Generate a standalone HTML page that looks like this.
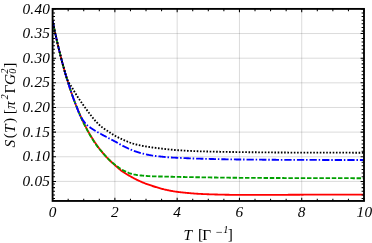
<!DOCTYPE html>
<html><head><meta charset="utf-8"><title>S(T)</title>
<style>html,body{margin:0;padding:0;background:#fff;overflow:hidden}svg{display:block}</style></head>
<body>
<svg width="372" height="243" viewBox="0 0 372 243">
<rect width="372" height="243" fill="#fff"/>
<defs><filter id="b" x="-5%" y="-5%" width="110%" height="110%"><feGaussianBlur stdDeviation="0.4"/></filter></defs>
<g filter="url(#b)">
<path d="M114.88,8.9 V200.95 M177.16,8.9 V200.95 M239.44,8.9 V200.95 M301.72,8.9 V200.95" stroke="#000" stroke-opacity="0.145" stroke-width="1" fill="none"/>
<path d="M52.6,181.40 H364.0 M52.6,156.76 H364.0 M52.6,132.12 H364.0 M52.6,107.47 H364.0 M52.6,82.83 H364.0 M52.6,58.19 H364.0 M52.6,33.55 H364.0" stroke="#000" stroke-opacity="0.145" stroke-width="1" fill="none"/>
<clipPath id="c"><rect x="52.6" y="8.9" width="311.4" height="192.04999999999998"/></clipPath>
<g clip-path="url(#c)" fill="none" stroke-width="1.85">
<path d="M52.60,20.60 L53.38,24.42 L54.16,28.16 L54.94,31.82 L55.72,35.40 L56.50,38.90 L57.28,42.32 L58.06,45.66 L58.84,48.94 L59.62,52.14 L60.40,55.27 L61.18,58.33 L61.97,61.32 L62.75,64.25 L63.53,67.12 L64.31,69.92 L65.09,72.66 L65.87,75.34 L66.65,77.96 L67.43,80.52 L68.21,83.03 L68.99,85.48 L69.77,87.88 L70.55,90.22 L71.33,92.52 L72.11,94.76 L72.89,96.95 L73.67,99.10 L74.45,101.20 L75.23,103.25 L76.01,105.26 L76.79,107.22 L77.57,109.14 L78.35,111.02 L79.14,112.86 L79.92,114.65 L80.70,116.41 L81.48,118.13 L82.26,119.81 L83.04,121.45 L83.82,123.06 L84.60,124.63 L85.38,126.17 L86.16,127.67 L86.94,129.14 L87.72,130.58 L88.50,131.99 L89.28,133.36 L90.06,134.71 L90.84,136.03 L91.62,137.31 L92.40,138.57 L93.18,139.80 L93.96,141.01 L94.74,142.19 L95.52,143.34 L96.31,144.46 L97.09,145.57 L97.87,146.64 L98.65,147.70 L99.43,148.73 L100.21,149.74 L100.99,150.72 L101.77,151.69 L102.55,152.63 L103.33,153.55 L104.11,154.45 L104.89,155.34 L105.67,156.20 L106.45,157.04 L107.23,157.87 L108.01,158.67 L108.79,159.46 L109.57,160.24 L110.35,160.99 L111.13,161.73 L111.91,162.45 L112.69,163.16 L113.48,163.85 L114.26,164.54 L115.04,165.24 L115.82,165.95 L116.60,166.66 L117.38,167.37 L118.16,168.06 L118.94,168.75 L119.72,169.41 L120.50,170.06 L121.28,170.67 L122.06,171.24 L122.84,171.79 L123.62,172.32 L124.40,172.82 L125.18,173.31 L125.96,173.79 L126.74,174.25 L127.52,174.71 L128.30,175.16 L129.08,175.60 L129.86,176.05 L130.65,176.49 L131.43,176.93 L132.21,177.36 L132.99,177.79 L133.77,178.21 L134.55,178.62 L135.33,179.02 L136.11,179.41 L136.89,179.80 L137.67,180.17 L138.45,180.54 L139.23,180.90 L140.01,181.26 L140.79,181.61 L141.57,181.95 L142.35,182.28 L143.13,182.61 L143.91,182.93 L144.69,183.24 L145.47,183.54 L146.25,183.83 L147.03,184.12 L147.82,184.40 L148.60,184.68 L149.38,184.95 L150.16,185.22 L150.94,185.48 L151.72,185.74 L152.50,186.00 L153.28,186.25 L154.06,186.50 L154.84,186.75 L155.62,187.00 L156.40,187.24 L157.18,187.47 L157.96,187.70 L158.74,187.93 L159.52,188.15 L160.30,188.37 L161.08,188.58 L161.86,188.79 L162.64,188.99 L163.42,189.19 L164.20,189.39 L164.98,189.57 L165.77,189.75 L166.55,189.92 L167.33,190.08 L168.11,190.25 L168.89,190.41 L169.67,190.57 L170.45,190.72 L171.23,190.87 L172.01,191.02 L172.79,191.16 L173.57,191.30 L174.35,191.43 L175.13,191.55 L175.91,191.68 L176.69,191.79 L177.47,191.90 L178.25,192.00 L179.03,192.09 L179.81,192.19 L180.59,192.28 L181.37,192.36 L182.15,192.45 L182.94,192.53 L183.72,192.61 L184.50,192.68 L185.28,192.75 L186.06,192.83 L186.84,192.90 L187.62,192.97 L188.40,193.03 L189.18,193.10 L189.96,193.17 L190.74,193.24 L191.52,193.30 L192.30,193.37 L193.08,193.43 L193.86,193.49 L194.64,193.55 L195.42,193.61 L196.20,193.67 L196.98,193.72 L197.76,193.77 L198.54,193.82 L199.32,193.86 L200.11,193.91 L200.89,193.94 L201.67,193.98 L202.45,194.02 L203.23,194.06 L204.01,194.09 L204.79,194.12 L205.57,194.16 L206.35,194.19 L207.13,194.22 L207.91,194.25 L208.69,194.28 L209.47,194.31 L210.25,194.33 L211.03,194.36 L211.81,194.38 L212.59,194.41 L213.37,194.43 L214.15,194.45 L214.93,194.47 L215.71,194.49 L216.49,194.51 L217.28,194.53 L218.06,194.55 L218.84,194.57 L219.62,194.59 L220.40,194.61 L221.18,194.62 L221.96,194.64 L222.74,194.66 L223.52,194.68 L224.30,194.70 L225.08,194.71 L225.86,194.73 L226.64,194.75 L227.42,194.76 L228.20,194.78 L228.98,194.79 L229.76,194.80 L230.54,194.82 L231.32,194.83 L232.10,194.84 L232.88,194.85 L233.66,194.86 L234.45,194.87 L235.23,194.88 L236.01,194.88 L236.79,194.89 L237.57,194.89 L238.35,194.90 L239.13,194.90 L239.91,194.90 L240.69,194.90 L241.47,194.90 L242.25,194.90 L243.03,194.90 L243.81,194.90 L244.59,194.90 L245.37,194.90 L246.15,194.90 L246.93,194.90 L247.71,194.90 L248.49,194.90 L249.27,194.90 L250.05,194.90 L250.83,194.90 L251.62,194.90 L252.40,194.90 L253.18,194.90 L253.96,194.90 L254.74,194.90 L255.52,194.90 L256.30,194.90 L257.08,194.90 L257.86,194.90 L258.64,194.90 L259.42,194.90 L260.20,194.90 L260.98,194.90 L261.76,194.90 L262.54,194.90 L263.32,194.90 L264.10,194.90 L264.88,194.90 L265.66,194.90 L266.44,194.90 L267.22,194.90 L268.00,194.90 L268.78,194.90 L269.57,194.90 L270.35,194.90 L271.13,194.90 L271.91,194.90 L272.69,194.90 L273.47,194.89 L274.25,194.89 L275.03,194.89 L275.81,194.88 L276.59,194.88 L277.37,194.88 L278.15,194.87 L278.93,194.87 L279.71,194.86 L280.49,194.85 L281.27,194.85 L282.05,194.84 L282.83,194.84 L283.61,194.83 L284.39,194.82 L285.17,194.82 L285.95,194.81 L286.74,194.80 L287.52,194.80 L288.30,194.79 L289.08,194.78 L289.86,194.77 L290.64,194.77 L291.42,194.76 L292.20,194.75 L292.98,194.75 L293.76,194.74 L294.54,194.74 L295.32,194.73 L296.10,194.73 L296.88,194.72 L297.66,194.72 L298.44,194.71 L299.22,194.71 L300.00,194.71 L300.78,194.70 L301.56,194.70 L302.34,194.70 L303.12,194.70 L303.91,194.69 L304.69,194.69 L305.47,194.69 L306.25,194.69 L307.03,194.69 L307.81,194.68 L308.59,194.68 L309.37,194.68 L310.15,194.68 L310.93,194.68 L311.71,194.67 L312.49,194.67 L313.27,194.67 L314.05,194.67 L314.83,194.67 L315.61,194.66 L316.39,194.66 L317.17,194.66 L317.95,194.66 L318.73,194.66 L319.51,194.65 L320.29,194.65 L321.08,194.65 L321.86,194.65 L322.64,194.65 L323.42,194.65 L324.20,194.64 L324.98,194.64 L325.76,194.64 L326.54,194.64 L327.32,194.64 L328.10,194.64 L328.88,194.64 L329.66,194.63 L330.44,194.63 L331.22,194.63 L332.00,194.63 L332.78,194.63 L333.56,194.63 L334.34,194.63 L335.12,194.62 L335.90,194.62 L336.68,194.62 L337.46,194.62 L338.25,194.62 L339.03,194.62 L339.81,194.62 L340.59,194.62 L341.37,194.62 L342.15,194.61 L342.93,194.61 L343.71,194.61 L344.49,194.61 L345.27,194.61 L346.05,194.61 L346.83,194.61 L347.61,194.61 L348.39,194.61 L349.17,194.61 L349.95,194.61 L350.73,194.61 L351.51,194.60 L352.29,194.60 L353.07,194.60 L353.85,194.60 L354.63,194.60 L355.42,194.60 L356.20,194.60 L356.98,194.60 L357.76,194.60 L358.54,194.60 L359.32,194.60 L360.10,194.60 L360.88,194.60 L361.66,194.60 L362.44,194.60 L363.22,194.60 L364.00,194.60" stroke="#ff0000"/>
<path d="M52.60,20.60 L53.38,24.42 L54.16,28.16 L54.94,31.82 L55.72,35.40 L56.50,38.90 L57.28,42.32 L58.06,45.66 L58.84,48.94 L59.62,52.14 L60.40,55.27 L61.18,58.33 L61.97,61.32 L62.75,64.25 L63.53,67.12 L64.31,69.92 L65.09,72.66 L65.87,75.34 L66.65,77.96 L67.43,80.52 L68.21,83.03 L68.99,85.48 L69.77,87.88 L70.55,90.22 L71.33,92.52 L72.11,94.76 L72.89,96.95 L73.67,99.10 L74.45,101.20 L75.23,103.25 L76.01,105.26 L76.79,107.22 L77.57,109.14 L78.35,110.98 L79.14,112.88 L79.92,114.94 L80.70,116.91 L81.48,118.66 L82.26,120.31 L83.04,121.95 L83.82,123.56 L84.60,125.13 L85.38,126.67 L86.16,128.17 L86.94,129.64 L87.72,131.08 L88.50,132.49 L89.28,133.86 L90.06,135.21 L90.84,136.53 L91.62,137.81 L92.40,139.07 L93.18,140.30 L93.96,141.51 L94.74,142.69 L95.52,143.84 L96.31,144.96 L97.09,146.07 L97.87,147.17 L98.65,148.22 L99.43,149.06 L100.21,149.79 L100.99,150.68 L101.77,151.68 L102.55,152.63 L103.33,153.55 L104.11,154.45 L104.89,155.34 L105.67,156.20 L106.45,157.04 L107.23,157.87 L108.01,158.69 L108.79,159.46 L109.57,160.19 L110.35,160.89 L111.13,161.58 L111.91,162.25 L112.69,162.90 L113.48,163.54 L114.26,164.17 L115.04,164.79 L115.82,165.39 L116.60,165.98 L117.38,166.55 L118.16,167.11 L118.94,167.67 L119.72,168.22 L120.50,168.76 L121.28,169.27 L122.06,169.73 L122.84,170.17 L123.62,170.57 L124.40,170.96 L125.18,171.32 L125.96,171.68 L126.74,172.04 L127.52,172.39 L128.30,172.73 L129.08,173.03 L129.86,173.28 L130.65,173.52 L131.43,173.75 L132.21,173.96 L132.99,174.17 L133.77,174.36 L134.55,174.53 L135.33,174.69 L136.11,174.84 L136.89,174.97 L137.67,175.08 L138.45,175.19 L139.23,175.28 L140.01,175.37 L140.79,175.46 L141.57,175.53 L142.35,175.61 L143.13,175.68 L143.91,175.74 L144.69,175.81 L145.47,175.87 L146.25,175.93 L147.03,175.99 L147.82,176.05 L148.60,176.11 L149.38,176.16 L150.16,176.21 L150.94,176.25 L151.72,176.28 L152.50,176.31 L153.28,176.33 L154.06,176.36 L154.84,176.38 L155.62,176.40 L156.40,176.42 L157.18,176.43 L157.96,176.45 L158.74,176.46 L159.52,176.48 L160.30,176.49 L161.08,176.50 L161.86,176.52 L162.64,176.53 L163.42,176.55 L164.20,176.56 L164.98,176.58 L165.77,176.59 L166.55,176.61 L167.33,176.63 L168.11,176.65 L168.89,176.67 L169.67,176.70 L170.45,176.72 L171.23,176.74 L172.01,176.76 L172.79,176.78 L173.57,176.80 L174.35,176.82 L175.13,176.84 L175.91,176.86 L176.69,176.88 L177.47,176.90 L178.25,176.92 L179.03,176.93 L179.81,176.95 L180.59,176.96 L181.37,176.98 L182.15,177.00 L182.94,177.01 L183.72,177.03 L184.50,177.04 L185.28,177.06 L186.06,177.07 L186.84,177.08 L187.62,177.10 L188.40,177.11 L189.18,177.13 L189.96,177.14 L190.74,177.15 L191.52,177.17 L192.30,177.18 L193.08,177.19 L193.86,177.20 L194.64,177.22 L195.42,177.23 L196.20,177.24 L196.98,177.25 L197.76,177.27 L198.54,177.28 L199.32,177.29 L200.11,177.30 L200.89,177.31 L201.67,177.32 L202.45,177.34 L203.23,177.35 L204.01,177.36 L204.79,177.37 L205.57,177.38 L206.35,177.40 L207.13,177.41 L207.91,177.42 L208.69,177.43 L209.47,177.44 L210.25,177.45 L211.03,177.46 L211.81,177.48 L212.59,177.49 L213.37,177.50 L214.15,177.51 L214.93,177.52 L215.71,177.53 L216.49,177.54 L217.28,177.55 L218.06,177.56 L218.84,177.57 L219.62,177.58 L220.40,177.59 L221.18,177.61 L221.96,177.62 L222.74,177.63 L223.52,177.64 L224.30,177.64 L225.08,177.65 L225.86,177.66 L226.64,177.67 L227.42,177.68 L228.20,177.69 L228.98,177.70 L229.76,177.71 L230.54,177.72 L231.32,177.72 L232.10,177.73 L232.88,177.74 L233.66,177.75 L234.45,177.76 L235.23,177.76 L236.01,177.77 L236.79,177.78 L237.57,177.78 L238.35,177.79 L239.13,177.80 L239.91,177.80 L240.69,177.81 L241.47,177.81 L242.25,177.82 L243.03,177.82 L243.81,177.83 L244.59,177.83 L245.37,177.84 L246.15,177.84 L246.93,177.85 L247.71,177.85 L248.49,177.86 L249.27,177.87 L250.05,177.87 L250.83,177.88 L251.62,177.88 L252.40,177.89 L253.18,177.89 L253.96,177.89 L254.74,177.90 L255.52,177.90 L256.30,177.91 L257.08,177.91 L257.86,177.92 L258.64,177.92 L259.42,177.93 L260.20,177.93 L260.98,177.94 L261.76,177.94 L262.54,177.95 L263.32,177.95 L264.10,177.95 L264.88,177.96 L265.66,177.96 L266.44,177.97 L267.22,177.97 L268.00,177.97 L268.78,177.98 L269.57,177.98 L270.35,177.99 L271.13,177.99 L271.91,177.99 L272.69,178.00 L273.47,178.00 L274.25,178.00 L275.03,178.01 L275.81,178.01 L276.59,178.01 L277.37,178.02 L278.15,178.02 L278.93,178.02 L279.71,178.03 L280.49,178.03 L281.27,178.03 L282.05,178.04 L282.83,178.04 L283.61,178.04 L284.39,178.05 L285.17,178.05 L285.95,178.05 L286.74,178.06 L287.52,178.06 L288.30,178.06 L289.08,178.06 L289.86,178.07 L290.64,178.07 L291.42,178.07 L292.20,178.07 L292.98,178.08 L293.76,178.08 L294.54,178.08 L295.32,178.08 L296.10,178.09 L296.88,178.09 L297.66,178.09 L298.44,178.09 L299.22,178.09 L300.00,178.10 L300.78,178.10 L301.56,178.10 L302.34,178.10 L303.12,178.10 L303.91,178.11 L304.69,178.11 L305.47,178.11 L306.25,178.11 L307.03,178.11 L307.81,178.12 L308.59,178.12 L309.37,178.12 L310.15,178.12 L310.93,178.12 L311.71,178.12 L312.49,178.13 L313.27,178.13 L314.05,178.13 L314.83,178.13 L315.61,178.13 L316.39,178.14 L317.17,178.14 L317.95,178.14 L318.73,178.14 L319.51,178.14 L320.29,178.14 L321.08,178.15 L321.86,178.15 L322.64,178.15 L323.42,178.15 L324.20,178.15 L324.98,178.15 L325.76,178.16 L326.54,178.16 L327.32,178.16 L328.10,178.16 L328.88,178.16 L329.66,178.16 L330.44,178.16 L331.22,178.17 L332.00,178.17 L332.78,178.17 L333.56,178.17 L334.34,178.17 L335.12,178.17 L335.90,178.17 L336.68,178.18 L337.46,178.18 L338.25,178.18 L339.03,178.18 L339.81,178.18 L340.59,178.18 L341.37,178.18 L342.15,178.18 L342.93,178.18 L343.71,178.19 L344.49,178.19 L345.27,178.19 L346.05,178.19 L346.83,178.19 L347.61,178.19 L348.39,178.19 L349.17,178.19 L349.95,178.19 L350.73,178.19 L351.51,178.19 L352.29,178.20 L353.07,178.20 L353.85,178.20 L354.63,178.20 L355.42,178.20 L356.20,178.20 L356.98,178.20 L357.76,178.20 L358.54,178.20 L359.32,178.20 L360.10,178.20 L360.88,178.20 L361.66,178.20 L362.44,178.20 L363.22,178.20 L364.00,178.20" stroke="#00a000" stroke-dasharray="4.5,1.7" stroke-dashoffset="5.0"/>
<path d="M52.60,20.60 L53.38,24.42 L54.16,28.16 L54.94,31.82 L55.72,35.40 L56.50,38.90 L57.28,42.32 L58.06,45.66 L58.84,48.94 L59.62,52.14 L60.40,55.27 L61.18,58.33 L61.97,61.32 L62.75,64.25 L63.53,67.12 L64.31,69.92 L65.09,72.66 L65.87,75.34 L66.65,77.96 L67.43,80.52 L68.21,83.03 L68.99,85.48 L69.77,87.88 L70.55,90.22 L71.33,92.52 L72.11,94.76 L72.89,96.95 L73.67,99.10 L74.45,101.20 L75.23,103.25 L76.01,105.25 L76.79,107.18 L77.57,109.20 L78.35,111.49 L79.14,113.67 L79.92,115.28 L80.70,116.52 L81.48,117.79 L82.26,119.06 L83.04,120.25 L83.82,121.37 L84.60,122.44 L85.38,123.42 L86.16,124.26 L86.94,124.98 L87.72,125.62 L88.50,126.22 L89.28,126.81 L90.06,127.38 L90.84,127.92 L91.62,128.45 L92.40,128.96 L93.18,129.47 L93.96,129.97 L94.74,130.45 L95.52,130.93 L96.31,131.40 L97.09,131.87 L97.87,132.32 L98.65,132.77 L99.43,133.21 L100.21,133.64 L100.99,134.06 L101.77,134.48 L102.55,134.90 L103.33,135.31 L104.11,135.73 L104.89,136.14 L105.67,136.56 L106.45,136.97 L107.23,137.38 L108.01,137.79 L108.79,138.20 L109.57,138.60 L110.35,139.01 L111.13,139.42 L111.91,139.82 L112.69,140.23 L113.48,140.65 L114.26,141.06 L115.04,141.48 L115.82,141.91 L116.60,142.35 L117.38,142.79 L118.16,143.23 L118.94,143.68 L119.72,144.13 L120.50,144.57 L121.28,145.01 L122.06,145.44 L122.84,145.86 L123.62,146.26 L124.40,146.66 L125.18,147.04 L125.96,147.41 L126.74,147.78 L127.52,148.14 L128.30,148.50 L129.08,148.85 L129.86,149.20 L130.65,149.53 L131.43,149.86 L132.21,150.19 L132.99,150.50 L133.77,150.80 L134.55,151.09 L135.33,151.37 L136.11,151.64 L136.89,151.90 L137.67,152.15 L138.45,152.40 L139.23,152.64 L140.01,152.87 L140.79,153.10 L141.57,153.31 L142.35,153.52 L143.13,153.72 L143.91,153.91 L144.69,154.09 L145.47,154.27 L146.25,154.44 L147.03,154.60 L147.82,154.76 L148.60,154.91 L149.38,155.06 L150.16,155.20 L150.94,155.33 L151.72,155.46 L152.50,155.57 L153.28,155.69 L154.06,155.80 L154.84,155.90 L155.62,156.00 L156.40,156.10 L157.18,156.19 L157.96,156.28 L158.74,156.36 L159.52,156.45 L160.30,156.53 L161.08,156.61 L161.86,156.69 L162.64,156.77 L163.42,156.85 L164.20,156.92 L164.98,157.00 L165.77,157.07 L166.55,157.14 L167.33,157.20 L168.11,157.26 L168.89,157.32 L169.67,157.38 L170.45,157.43 L171.23,157.48 L172.01,157.52 L172.79,157.57 L173.57,157.61 L174.35,157.65 L175.13,157.69 L175.91,157.73 L176.69,157.76 L177.47,157.80 L178.25,157.84 L179.03,157.87 L179.81,157.91 L180.59,157.94 L181.37,157.98 L182.15,158.02 L182.94,158.05 L183.72,158.09 L184.50,158.12 L185.28,158.16 L186.06,158.19 L186.84,158.22 L187.62,158.26 L188.40,158.29 L189.18,158.32 L189.96,158.35 L190.74,158.38 L191.52,158.42 L192.30,158.45 L193.08,158.47 L193.86,158.50 L194.64,158.53 L195.42,158.56 L196.20,158.58 L196.98,158.61 L197.76,158.63 L198.54,158.66 L199.32,158.68 L200.11,158.70 L200.89,158.72 L201.67,158.75 L202.45,158.77 L203.23,158.79 L204.01,158.81 L204.79,158.83 L205.57,158.85 L206.35,158.87 L207.13,158.89 L207.91,158.91 L208.69,158.93 L209.47,158.95 L210.25,158.97 L211.03,158.99 L211.81,159.01 L212.59,159.02 L213.37,159.04 L214.15,159.06 L214.93,159.08 L215.71,159.10 L216.49,159.11 L217.28,159.13 L218.06,159.15 L218.84,159.16 L219.62,159.18 L220.40,159.20 L221.18,159.21 L221.96,159.23 L222.74,159.24 L223.52,159.26 L224.30,159.27 L225.08,159.29 L225.86,159.30 L226.64,159.32 L227.42,159.33 L228.20,159.34 L228.98,159.36 L229.76,159.37 L230.54,159.38 L231.32,159.39 L232.10,159.40 L232.88,159.42 L233.66,159.43 L234.45,159.44 L235.23,159.45 L236.01,159.46 L236.79,159.47 L237.57,159.48 L238.35,159.48 L239.13,159.49 L239.91,159.50 L240.69,159.51 L241.47,159.52 L242.25,159.52 L243.03,159.53 L243.81,159.54 L244.59,159.55 L245.37,159.55 L246.15,159.56 L246.93,159.57 L247.71,159.58 L248.49,159.58 L249.27,159.59 L250.05,159.60 L250.83,159.61 L251.62,159.61 L252.40,159.62 L253.18,159.63 L253.96,159.63 L254.74,159.64 L255.52,159.65 L256.30,159.65 L257.08,159.66 L257.86,159.67 L258.64,159.67 L259.42,159.68 L260.20,159.68 L260.98,159.69 L261.76,159.70 L262.54,159.70 L263.32,159.71 L264.10,159.71 L264.88,159.72 L265.66,159.72 L266.44,159.73 L267.22,159.74 L268.00,159.74 L268.78,159.75 L269.57,159.75 L270.35,159.76 L271.13,159.76 L271.91,159.77 L272.69,159.77 L273.47,159.78 L274.25,159.78 L275.03,159.79 L275.81,159.79 L276.59,159.80 L277.37,159.80 L278.15,159.80 L278.93,159.81 L279.71,159.81 L280.49,159.82 L281.27,159.82 L282.05,159.83 L282.83,159.83 L283.61,159.83 L284.39,159.84 L285.17,159.84 L285.95,159.84 L286.74,159.85 L287.52,159.85 L288.30,159.85 L289.08,159.86 L289.86,159.86 L290.64,159.86 L291.42,159.87 L292.20,159.87 L292.98,159.87 L293.76,159.88 L294.54,159.88 L295.32,159.88 L296.10,159.88 L296.88,159.89 L297.66,159.89 L298.44,159.89 L299.22,159.89 L300.00,159.90 L300.78,159.90 L301.56,159.90 L302.34,159.90 L303.12,159.90 L303.91,159.91 L304.69,159.91 L305.47,159.91 L306.25,159.91 L307.03,159.91 L307.81,159.92 L308.59,159.92 L309.37,159.92 L310.15,159.92 L310.93,159.92 L311.71,159.93 L312.49,159.93 L313.27,159.93 L314.05,159.93 L314.83,159.93 L315.61,159.93 L316.39,159.94 L317.17,159.94 L317.95,159.94 L318.73,159.94 L319.51,159.94 L320.29,159.95 L321.08,159.95 L321.86,159.95 L322.64,159.95 L323.42,159.95 L324.20,159.95 L324.98,159.96 L325.76,159.96 L326.54,159.96 L327.32,159.96 L328.10,159.96 L328.88,159.96 L329.66,159.96 L330.44,159.97 L331.22,159.97 L332.00,159.97 L332.78,159.97 L333.56,159.97 L334.34,159.97 L335.12,159.97 L335.90,159.98 L336.68,159.98 L337.46,159.98 L338.25,159.98 L339.03,159.98 L339.81,159.98 L340.59,159.98 L341.37,159.98 L342.15,159.98 L342.93,159.99 L343.71,159.99 L344.49,159.99 L345.27,159.99 L346.05,159.99 L346.83,159.99 L347.61,159.99 L348.39,159.99 L349.17,159.99 L349.95,159.99 L350.73,159.99 L351.51,159.99 L352.29,160.00 L353.07,160.00 L353.85,160.00 L354.63,160.00 L355.42,160.00 L356.20,160.00 L356.98,160.00 L357.76,160.00 L358.54,160.00 L359.32,160.00 L360.10,160.00 L360.88,160.00 L361.66,160.00 L362.44,160.00 L363.22,160.00 L364.00,160.00" stroke="#0000ff" stroke-dasharray="7.3,1.85,1.5,1.95" stroke-dashoffset="11.97"/>
<path d="M52.60,20.60 L53.38,24.42 L54.16,28.16 L54.94,31.82 L55.72,35.40 L56.50,38.90 L57.28,42.32 L58.06,45.66 L58.84,48.94 L59.62,52.14 L60.40,55.27 L61.18,58.33 L61.97,61.32 L62.75,64.25 L63.53,67.12 L64.31,69.92 L65.09,72.73 L65.87,75.32 L66.65,77.61 L67.43,79.63 L68.21,81.32 L68.99,82.78 L69.77,84.10 L70.55,85.31 L71.33,86.53 L72.11,87.80 L72.89,89.10 L73.67,90.40 L74.45,91.69 L75.23,92.96 L76.01,94.24 L76.79,95.49 L77.57,96.72 L78.35,97.91 L79.14,99.08 L79.92,100.23 L80.70,101.36 L81.48,102.48 L82.26,103.59 L83.04,104.68 L83.82,105.76 L84.60,106.84 L85.38,107.93 L86.16,109.02 L86.94,110.11 L87.72,111.18 L88.50,112.24 L89.28,113.27 L90.06,114.29 L90.84,115.31 L91.62,116.31 L92.40,117.30 L93.18,118.27 L93.96,119.22 L94.74,120.14 L95.52,121.03 L96.31,121.89 L97.09,122.74 L97.87,123.56 L98.65,124.33 L99.43,125.05 L100.21,125.72 L100.99,126.35 L101.77,126.97 L102.55,127.56 L103.33,128.13 L104.11,128.69 L104.89,129.23 L105.67,129.76 L106.45,130.28 L107.23,130.80 L108.01,131.31 L108.79,131.83 L109.57,132.35 L110.35,132.87 L111.13,133.39 L111.91,133.90 L112.69,134.40 L113.48,134.89 L114.26,135.35 L115.04,135.79 L115.82,136.21 L116.60,136.62 L117.38,137.03 L118.16,137.43 L118.94,137.81 L119.72,138.19 L120.50,138.56 L121.28,138.92 L122.06,139.28 L122.84,139.62 L123.62,139.96 L124.40,140.29 L125.18,140.62 L125.96,140.94 L126.74,141.26 L127.52,141.58 L128.30,141.89 L129.08,142.20 L129.86,142.51 L130.65,142.80 L131.43,143.08 L132.21,143.36 L132.99,143.62 L133.77,143.86 L134.55,144.09 L135.33,144.31 L136.11,144.50 L136.89,144.69 L137.67,144.87 L138.45,145.04 L139.23,145.21 L140.01,145.38 L140.79,145.54 L141.57,145.69 L142.35,145.84 L143.13,145.98 L143.91,146.12 L144.69,146.26 L145.47,146.39 L146.25,146.52 L147.03,146.65 L147.82,146.77 L148.60,146.89 L149.38,147.01 L150.16,147.13 L150.94,147.24 L151.72,147.36 L152.50,147.47 L153.28,147.58 L154.06,147.69 L154.84,147.79 L155.62,147.88 L156.40,147.98 L157.18,148.07 L157.96,148.17 L158.74,148.26 L159.52,148.35 L160.30,148.43 L161.08,148.52 L161.86,148.61 L162.64,148.71 L163.42,148.80 L164.20,148.89 L164.98,148.98 L165.77,149.07 L166.55,149.16 L167.33,149.25 L168.11,149.33 L168.89,149.42 L169.67,149.50 L170.45,149.58 L171.23,149.66 L172.01,149.74 L172.79,149.82 L173.57,149.89 L174.35,149.96 L175.13,150.02 L175.91,150.08 L176.69,150.14 L177.47,150.20 L178.25,150.25 L179.03,150.30 L179.81,150.35 L180.59,150.40 L181.37,150.45 L182.15,150.50 L182.94,150.54 L183.72,150.59 L184.50,150.63 L185.28,150.68 L186.06,150.72 L186.84,150.76 L187.62,150.80 L188.40,150.84 L189.18,150.88 L189.96,150.91 L190.74,150.95 L191.52,150.99 L192.30,151.02 L193.08,151.05 L193.86,151.08 L194.64,151.12 L195.42,151.15 L196.20,151.17 L196.98,151.20 L197.76,151.23 L198.54,151.25 L199.32,151.28 L200.11,151.30 L200.89,151.33 L201.67,151.35 L202.45,151.37 L203.23,151.39 L204.01,151.41 L204.79,151.44 L205.57,151.46 L206.35,151.48 L207.13,151.50 L207.91,151.52 L208.69,151.54 L209.47,151.56 L210.25,151.58 L211.03,151.59 L211.81,151.61 L212.59,151.63 L213.37,151.65 L214.15,151.67 L214.93,151.68 L215.71,151.70 L216.49,151.72 L217.28,151.73 L218.06,151.75 L218.84,151.77 L219.62,151.78 L220.40,151.80 L221.18,151.81 L221.96,151.83 L222.74,151.84 L223.52,151.86 L224.30,151.87 L225.08,151.88 L225.86,151.90 L226.64,151.91 L227.42,151.92 L228.20,151.94 L228.98,151.95 L229.76,151.96 L230.54,151.97 L231.32,151.99 L232.10,152.00 L232.88,152.01 L233.66,152.02 L234.45,152.03 L235.23,152.04 L236.01,152.05 L236.79,152.06 L237.57,152.07 L238.35,152.08 L239.13,152.09 L239.91,152.10 L240.69,152.11 L241.47,152.12 L242.25,152.13 L243.03,152.14 L243.81,152.15 L244.59,152.16 L245.37,152.17 L246.15,152.17 L246.93,152.18 L247.71,152.19 L248.49,152.20 L249.27,152.21 L250.05,152.22 L250.83,152.23 L251.62,152.24 L252.40,152.24 L253.18,152.25 L253.96,152.26 L254.74,152.27 L255.52,152.28 L256.30,152.28 L257.08,152.29 L257.86,152.30 L258.64,152.31 L259.42,152.32 L260.20,152.32 L260.98,152.33 L261.76,152.34 L262.54,152.35 L263.32,152.36 L264.10,152.36 L264.88,152.37 L265.66,152.38 L266.44,152.38 L267.22,152.39 L268.00,152.40 L268.78,152.41 L269.57,152.41 L270.35,152.42 L271.13,152.43 L271.91,152.43 L272.69,152.44 L273.47,152.44 L274.25,152.45 L275.03,152.46 L275.81,152.46 L276.59,152.47 L277.37,152.47 L278.15,152.48 L278.93,152.49 L279.71,152.49 L280.49,152.50 L281.27,152.50 L282.05,152.51 L282.83,152.51 L283.61,152.52 L284.39,152.52 L285.17,152.53 L285.95,152.53 L286.74,152.54 L287.52,152.54 L288.30,152.55 L289.08,152.55 L289.86,152.55 L290.64,152.56 L291.42,152.56 L292.20,152.57 L292.98,152.57 L293.76,152.57 L294.54,152.58 L295.32,152.58 L296.10,152.58 L296.88,152.59 L297.66,152.59 L298.44,152.59 L299.22,152.59 L300.00,152.60 L300.78,152.60 L301.56,152.60 L302.34,152.60 L303.12,152.60 L303.91,152.61 L304.69,152.61 L305.47,152.61 L306.25,152.61 L307.03,152.61 L307.81,152.62 L308.59,152.62 L309.37,152.62 L310.15,152.62 L310.93,152.62 L311.71,152.63 L312.49,152.63 L313.27,152.63 L314.05,152.63 L314.83,152.63 L315.61,152.64 L316.39,152.64 L317.17,152.64 L317.95,152.64 L318.73,152.64 L319.51,152.64 L320.29,152.65 L321.08,152.65 L321.86,152.65 L322.64,152.65 L323.42,152.65 L324.20,152.65 L324.98,152.66 L325.76,152.66 L326.54,152.66 L327.32,152.66 L328.10,152.66 L328.88,152.66 L329.66,152.67 L330.44,152.67 L331.22,152.67 L332.00,152.67 L332.78,152.67 L333.56,152.67 L334.34,152.67 L335.12,152.67 L335.90,152.68 L336.68,152.68 L337.46,152.68 L338.25,152.68 L339.03,152.68 L339.81,152.68 L340.59,152.68 L341.37,152.68 L342.15,152.69 L342.93,152.69 L343.71,152.69 L344.49,152.69 L345.27,152.69 L346.05,152.69 L346.83,152.69 L347.61,152.69 L348.39,152.69 L349.17,152.69 L349.95,152.69 L350.73,152.69 L351.51,152.69 L352.29,152.70 L353.07,152.70 L353.85,152.70 L354.63,152.70 L355.42,152.70 L356.20,152.70 L356.98,152.70 L357.76,152.70 L358.54,152.70 L359.32,152.70 L360.10,152.70 L360.88,152.70 L361.66,152.70 L362.44,152.70 L363.22,152.70 L364.00,152.70" stroke="#000" stroke-dasharray="1.6,1.638" stroke-dashoffset="0.66"/>
</g>
<path d="M52.60,200.95 v-3.3 M52.60,8.9 v3.3 M68.17,200.95 v-2.3 M68.17,8.9 v2.3 M83.74,200.95 v-2.3 M83.74,8.9 v2.3 M99.31,200.95 v-2.3 M99.31,8.9 v2.3 M114.88,200.95 v-3.3 M114.88,8.9 v3.3 M130.45,200.95 v-2.3 M130.45,8.9 v2.3 M146.02,200.95 v-2.3 M146.02,8.9 v2.3 M161.59,200.95 v-2.3 M161.59,8.9 v2.3 M177.16,200.95 v-3.3 M177.16,8.9 v3.3 M192.73,200.95 v-2.3 M192.73,8.9 v2.3 M208.30,200.95 v-2.3 M208.30,8.9 v2.3 M223.87,200.95 v-2.3 M223.87,8.9 v2.3 M239.44,200.95 v-3.3 M239.44,8.9 v3.3 M255.01,200.95 v-2.3 M255.01,8.9 v2.3 M270.58,200.95 v-2.3 M270.58,8.9 v2.3 M286.15,200.95 v-2.3 M286.15,8.9 v2.3 M301.72,200.95 v-3.3 M301.72,8.9 v3.3 M317.29,200.95 v-2.3 M317.29,8.9 v2.3 M332.86,200.95 v-2.3 M332.86,8.9 v2.3 M348.43,200.95 v-2.3 M348.43,8.9 v2.3 M364.00,200.95 v-3.3 M364.00,8.9 v3.3 M52.6,181.40 h3.4 M364.0,181.40 h-3.4 M52.6,156.76 h3.4 M364.0,156.76 h-3.4 M52.6,132.12 h3.4 M364.0,132.12 h-3.4 M52.6,107.47 h3.4 M364.0,107.47 h-3.4 M52.6,82.83 h3.4 M364.0,82.83 h-3.4 M52.6,58.19 h3.4 M364.0,58.19 h-3.4 M52.6,33.55 h3.4 M364.0,33.55 h-3.4 M52.6,8.91 h3.4 M364.0,8.91 h-3.4 M52.6,12.92 h2.4 M364.0,12.92 h-2.4 M52.6,16.56 h2.4 M364.0,16.56 h-2.4 M52.6,20.20 h2.4 M364.0,20.20 h-2.4 M52.6,23.84 h2.4 M364.0,23.84 h-2.4 M52.6,27.48 h2.4 M364.0,27.48 h-2.4 M52.6,31.12 h2.4 M364.0,31.12 h-2.4 M52.6,38.40 h2.4 M364.0,38.40 h-2.4 M52.6,42.04 h2.4 M364.0,42.04 h-2.4 M52.6,45.68 h2.4 M364.0,45.68 h-2.4 M52.6,49.32 h2.4 M364.0,49.32 h-2.4 M52.6,52.96 h2.4 M364.0,52.96 h-2.4 M52.6,60.24 h2.4 M364.0,60.24 h-2.4 M52.6,63.88 h2.4 M364.0,63.88 h-2.4 M52.6,67.52 h2.4 M364.0,67.52 h-2.4 M52.6,71.16 h2.4 M364.0,71.16 h-2.4 M52.6,74.80 h2.4 M364.0,74.80 h-2.4 M52.6,78.44 h2.4 M364.0,78.44 h-2.4 M52.6,85.72 h2.4 M364.0,85.72 h-2.4 M52.6,89.36 h2.4 M364.0,89.36 h-2.4 M52.6,93.00 h2.4 M364.0,93.00 h-2.4 M52.6,96.64 h2.4 M364.0,96.64 h-2.4 M52.6,100.28 h2.4 M364.0,100.28 h-2.4 M52.6,103.92 h2.4 M364.0,103.92 h-2.4 M52.6,111.20 h2.4 M364.0,111.20 h-2.4 M52.6,114.84 h2.4 M364.0,114.84 h-2.4 M52.6,118.48 h2.4 M364.0,118.48 h-2.4 M52.6,122.12 h2.4 M364.0,122.12 h-2.4 M52.6,125.76 h2.4 M364.0,125.76 h-2.4 M52.6,129.40 h2.4 M364.0,129.40 h-2.4 M52.6,136.68 h2.4 M364.0,136.68 h-2.4 M52.6,140.32 h2.4 M364.0,140.32 h-2.4 M52.6,143.96 h2.4 M364.0,143.96 h-2.4 M52.6,147.60 h2.4 M364.0,147.60 h-2.4 M52.6,151.24 h2.4 M364.0,151.24 h-2.4 M52.6,162.16 h2.4 M364.0,162.16 h-2.4 M52.6,165.80 h2.4 M364.0,165.80 h-2.4 M52.6,169.44 h2.4 M364.0,169.44 h-2.4 M52.6,173.08 h2.4 M364.0,173.08 h-2.4 M52.6,176.72 h2.4 M364.0,176.72 h-2.4 M52.6,184.00 h2.4 M364.0,184.00 h-2.4 M52.6,187.64 h2.4 M364.0,187.64 h-2.4 M52.6,191.28 h2.4 M364.0,191.28 h-2.4 M52.6,194.92 h2.4 M364.0,194.92 h-2.4 M52.6,198.56 h2.4 M364.0,198.56 h-2.4" stroke="#000" stroke-width="1.05" fill="none"/>
<rect x="52.6" y="8.9" width="311.4" height="192.04999999999998" fill="none" stroke="#000" stroke-width="1.85"/>
<g font-family="Liberation Serif, serif" font-style="italic" font-size="15.3" letter-spacing="0.25" fill="#000">
<text x="50.2" y="186.00" text-anchor="end">0.05</text>
<text x="50.2" y="161.36" text-anchor="end">0.10</text>
<text x="50.2" y="136.72" text-anchor="end">0.15</text>
<text x="50.2" y="112.07" text-anchor="end">0.20</text>
<text x="50.2" y="87.43" text-anchor="end">0.25</text>
<text x="50.2" y="62.79" text-anchor="end">0.30</text>
<text x="50.2" y="38.15" text-anchor="end">0.35</text>
<text x="50.2" y="13.51" text-anchor="end">0.40</text>
<text x="52.70" y="216.8" text-anchor="middle">0</text>
<text x="114.98" y="216.8" text-anchor="middle">2</text>
<text x="177.26" y="216.8" text-anchor="middle">4</text>
<text x="239.54" y="216.8" text-anchor="middle">6</text>
<text x="301.82" y="216.8" text-anchor="middle">8</text>
<text x="364.50" y="216.8" text-anchor="middle">10</text>
</g>
<g transform="translate(0,239.8)" font-family="Liberation Serif, serif" fill="#000"><text x="183.6" y="0" font-size="15.3" font-style="italic">T</text><text x="198.0" y="-0.4" font-size="15.3">[</text><text x="202.3" y="0" font-size="15.3">Γ</text><text x="215.0" y="-3.6" font-size="12" font-style="italic">−</text><text x="223.2" y="-6.7" font-size="10.3" font-style="italic">1</text><text x="227.8" y="-0.4" font-size="15.3">]</text></g>
<g transform="translate(14.7,147.3) rotate(-90)" font-family="Liberation Serif, serif" fill="#000"><text x="-0.3" y="0" font-size="15.3" font-style="italic">S</text><text x="9.0" y="-0.6" font-size="15.3">(</text><text x="14.2" y="0" font-size="15.3" font-style="italic">T</text><text x="24.3" y="-0.6" font-size="15.3">)</text><text x="33.0" y="-0.6" font-size="15.3">[</text><text x="38.3" y="0" font-size="15.3" font-style="italic">π</text><text x="47.8" y="-6.8" font-size="10.3" font-style="italic">2</text><text x="53.7" y="0" font-size="15.3">Γ</text><text x="62.3" y="0" font-size="15.3" font-style="italic">G</text><text x="73.5" y="1.5" font-size="10.3" font-style="italic">0</text><text x="73.6" y="-6.9" font-size="10.3" font-style="italic">2</text><text x="79.6" y="-0.6" font-size="15.3">]</text></g>
</g>
</svg>
</body></html>
